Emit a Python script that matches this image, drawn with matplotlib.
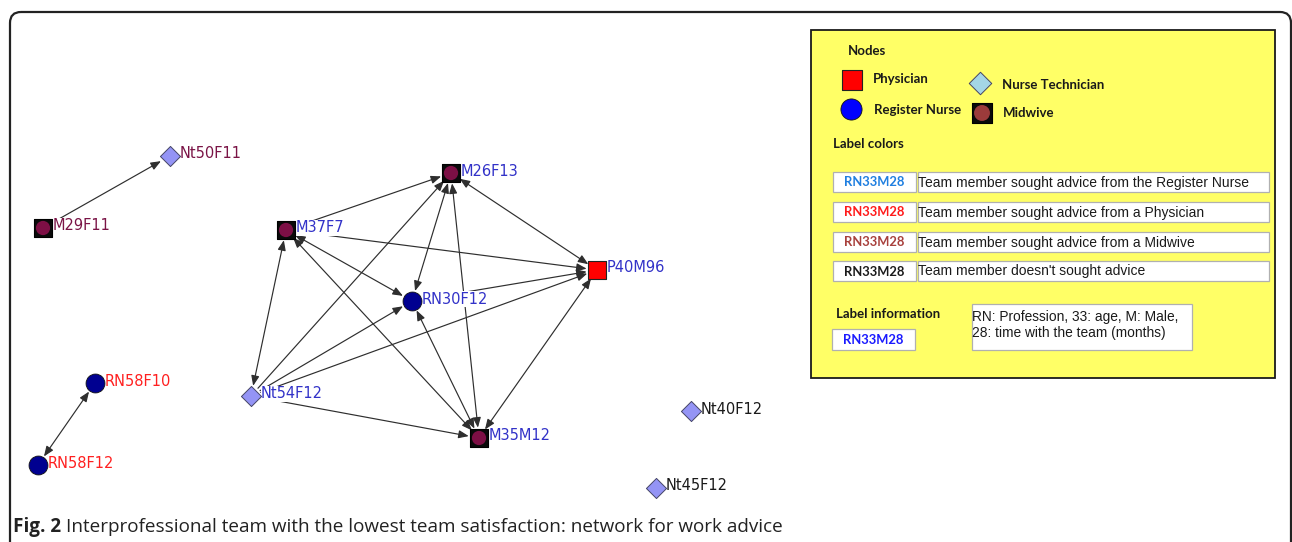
import matplotlib
matplotlib.use("Agg")
import matplotlib.pyplot as plt
from matplotlib.patches import Rectangle, FancyBboxPatch

# ---------------- data ----------------
node_names = ["Nt50F11", "M29F11", "M37F7", "M26F13", "P40M96", "RN30F12",
              "Nt54F12", "M35M12", "RN58F10", "RN58F12", "Nt40F12", "Nt45F12"]
node_x = [170, 43, 286, 451, 597, 412, 251, 479, 95, 38, 691, 656]
node_y = [156, 228, 230, 173, 270, 301, 396, 438, 383, 465, 411, 488]
node_role = ["Nurse Technician", "Midwive", "Midwive", "Midwive", "Physician",
             "Register Nurse", "Nurse Technician", "Midwive", "Register Nurse",
             "Register Nurse", "Nurse Technician", "Nurse Technician"]
# whom the member sought advice from (label colour category)
node_advice = ["Midwive", "Midwive", "Register Nurse", "Register Nurse", "Register Nurse",
               "Register Nurse", "Register Nurse", "Register Nurse", "Physician",
               "Physician", "None", "None"]

edge_src = ["M29F11", "RN58F12", "M37F7", "M37F7", "P40M96", "M37F7", "M37F7",
            "M35M12", "RN30F12", "M35M12", "Nt54F12", "Nt54F12", "Nt54F12",
            "Nt54F12", "RN30F12", "RN30F12", "M35M12"]
edge_dst = ["Nt50F11", "RN58F10", "M26F13", "P40M96", "M26F13", "RN30F12", "Nt54F12",
            "M37F7", "M26F13", "M26F13", "M26F13", "RN30F12", "P40M96",
            "M35M12", "P40M96", "M35M12", "P40M96"]
edge_mutual = [False, True, False, False, True, True, True,
               True, True, True, False, False, False,
               False, False, True, True]

legend_roles = ["Physician", "Nurse Technician", "Register Nurse", "Midwive"]
legend_rows = ["Team member sought advice from the Register Nurse",
               "Team member sought advice from a Physician",
               "Team member sought advice from a Midwive",
               "Team member doesn't sought advice"]
legend_row_keys = ["Register Nurse", "Physician", "Midwive", "None"]
sample_label = "RN33M28"
label_info = "RN: Profession, 33: age, M: Male,\n28: time with the team (months)"
caption_bold = "Fig. 2"
caption_text = "Interprofessional team with the lowest team satisfaction: network for work advice"

# ---------------- styles ----------------
node_label_color = {"Register Nurse": "#3232c8", "Physician": "#ff2020",
                    "Midwive": "#7a1446", "None": "#1a1a1a"}
legend_label_color = {"Register Nurse": "#1f7fe0", "Physician": "#ff1a1a",
                      "Midwive": "#a8403c", "None": "#1a1a1a"}

W, H = 1292, 542
fig = plt.figure(figsize=(W / 100, H / 100), dpi=100)
ax = fig.add_axes([0, 0, 1, 1])
ax.set_xlim(0, W)
ax.set_ylim(H, 0)
ax.axis("off")

# outer rounded frame
frame = FancyBboxPatch((10, 12), 1281, 700, boxstyle="round,pad=0,rounding_size=11",
                       fc="none", ec="#222222", lw=1.6, zorder=0)
ax.add_patch(frame)

pos = {n: (x, y) for n, x, y in zip(node_names, node_x, node_y)}

# edges
for s, d, m in zip(edge_src, edge_dst, edge_mutual):
    style = "<|-|>" if m else "-|>"
    ax.annotate("", xy=pos[d], xytext=pos[s],
                arrowprops=dict(arrowstyle=style + ",head_length=0.55,head_width=0.22",
                                color="#2e2e2e", lw=0.85, shrinkA=7.5, shrinkB=7.5,
                                mutation_scale=11),
                zorder=1)


def draw_node(x, y, role, inner, rn, nt, scale=1.0, z=4):
    if role == "Midwive":
        ax.scatter([x], [y], marker="s", s=170 * scale, c="#0a0a0a", edgecolors="#000000",
                   linewidths=0.8, zorder=z)
        ax.scatter([x], [y], marker="o", s=105 * scale, c=inner, edgecolors="none", zorder=z + 0.1)
    elif role == "Physician":
        ax.scatter([x], [y], marker="s", s=170 * scale, c="#ff0000", edgecolors="#222222",
                   linewidths=0.8, zorder=z)
    elif role == "Register Nurse":
        ax.scatter([x], [y], marker="o", s=185 * scale, c=rn, edgecolors="#111111",
                   linewidths=0.6, zorder=z)
    else:
        ax.scatter([x], [y], marker="D", s=105 * scale, c=nt, edgecolors="#444466",
                   linewidths=0.7, zorder=z)


for n, x, y, r, a in zip(node_names, node_x, node_y, node_role, node_advice):
    draw_node(x, y, r, "#7d0f45", "#000090", "#9494f5")
    ax.text(x + 10, y - 2, n, color=node_label_color[a], fontsize=10.5,
            family="DejaVu Sans", va="center", ha="left", zorder=3,
            bbox=dict(fc="white", ec="none", pad=0.3))

# ---------------- legend panel ----------------
ax.add_patch(Rectangle((811, 30), 464, 348, fc="#ffff66", ec="#1a1a1a", lw=1.3, zorder=5))
bold = dict(family="Lato", weight="bold", fontsize=9.5, color="#1a1a1a", zorder=7,
            va="center", ha="left")
ax.text(848, 51, "Nodes", **bold)

leg_pos = {"Physician": (852, 80), "Nurse Technician": (980, 83),
           "Register Nurse": (851, 109), "Midwive": (982, 113)}
leg_txt = {"Physician": (873, 79), "Nurse Technician": (1002, 85),
           "Register Nurse": (874, 110), "Midwive": (1003, 113)}
for r in legend_roles:
    lx, ly = leg_pos[r]
    draw_node(lx, ly, r, "#9b3b3b", "#0000ff", "#a4d6e6", scale=1.25, z=6)
    tx, ty = leg_txt[r]
    ax.text(tx, ty, r, **bold)

ax.text(833, 144, "Label colors", **bold)

row_y = [182, 212, 242, 271]
for ry, txt, key in zip(row_y, legend_rows, legend_row_keys):
    ax.add_patch(Rectangle((833, ry - 10), 83, 20, fc="white", ec="#b0b0b0", lw=0.9, zorder=6))
    ax.add_patch(Rectangle((918, ry - 10), 351, 20, fc="white", ec="#b0b0b0", lw=0.9, zorder=6))
    ax.text(874.5, ry + 0.5, sample_label, family="Lato", weight="bold", fontsize=9.4,
            color=legend_label_color[key], ha="center", va="center", zorder=7)
    ax.text(918, ry + 0.5, txt, family="Liberation Sans", fontsize=10, color="#1a1a1a",
            ha="left", va="center", zorder=7)

ax.text(836, 314, "Label information", **bold)
ax.add_patch(Rectangle((832, 329), 83, 21, fc="white", ec="#b0b0b0", lw=0.9, zorder=6))
ax.text(873.5, 340, sample_label, family="Lato", weight="bold", fontsize=9.4,
        color="#1a1aff", ha="center", va="center", zorder=7)
ax.add_patch(Rectangle((972, 304), 220, 46, fc="white", ec="#b0b0b0", lw=0.9, zorder=6))
ax.text(972, 325, label_info, family="Liberation Sans", fontsize=9.9, color="#1a1a1a",
        ha="left", va="center", linespacing=1.1, zorder=7)

# ---------------- caption ----------------
t1 = ax.text(13, 527, caption_bold, family="Open Sans", weight="bold", fontsize=13.6,
             color="#222222", ha="left", va="center")
fig.canvas.draw()
bb = t1.get_window_extent()
# axes span the full figure, so one pixel equals one data unit in x
ax.text(bb.x1 + 5, 527, caption_text, family="Open Sans", fontsize=13.6, color="#222222",
        ha="left", va="center")

fig.savefig("out.png", dpi=100)
